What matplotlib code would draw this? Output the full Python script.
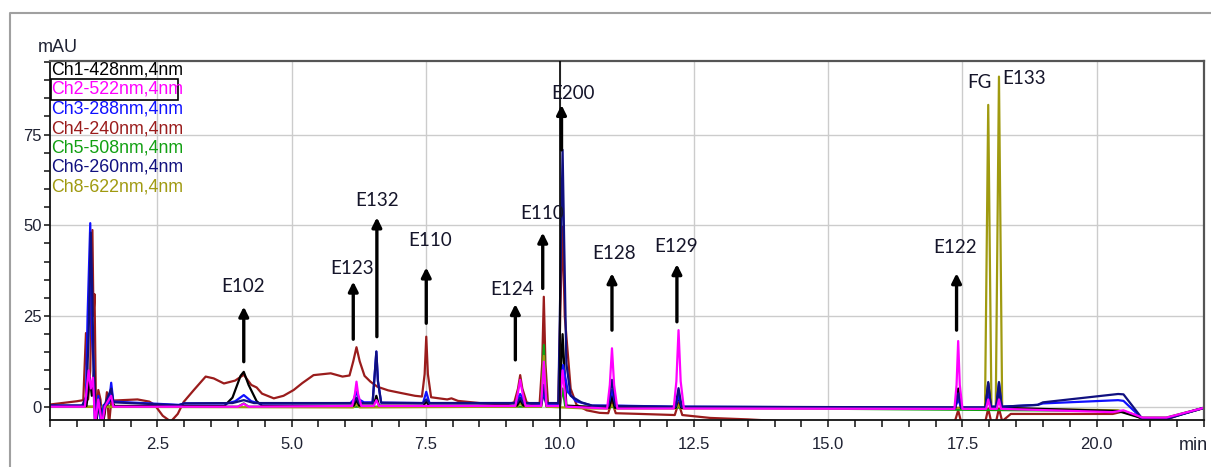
import matplotlib
matplotlib.use("Agg")
import matplotlib.pyplot as plt
from matplotlib.lines import Line2D
from matplotlib.patches import Rectangle
from matplotlib.ticker import MultipleLocator, FormatStrFormatter

# ---- data (time in min, signal in mAU) ----
ch4_t = [0.5, 1.0, 1.12, 1.17, 1.21, 1.25, 1.29, 1.31, 1.33, 1.36, 1.40, 1.44, 1.48, 1.52, 1.56, 1.60,
         1.64, 1.7, 2.13, 2.35, 2.45, 2.6, 2.75, 2.88, 2.99, 3.18, 3.4, 3.55, 3.74, 3.95, 4.11, 4.25,
         4.35, 4.45, 4.67, 4.85, 5.04, 5.2, 5.41, 5.73, 5.95, 6.08, 6.15, 6.21, 6.27, 6.36, 6.47, 6.6,
         6.8, 7.03, 7.3, 7.43, 7.48, 7.51, 7.54, 7.6, 7.9, 7.98, 8.1, 8.5, 9.0, 9.15, 9.22, 9.26,
         9.3, 9.38, 9.5, 9.62, 9.67, 9.70, 9.73, 9.78, 9.9, 9.97, 10.01, 10.05, 10.09, 10.2, 10.31,
         10.5, 10.74, 10.9, 10.97, 11.04, 11.5, 12.14, 12.21, 12.28, 12.8, 13.5, 14.0, 15.0, 17.35,
         17.42, 17.48, 17.92, 17.98, 18.04, 18.12, 18.18, 18.24, 18.4, 19.0, 20.3, 20.5, 20.7, 20.85,
         21.3, 21.6, 22.0]
ch4_v = [0.6, 1.5, 1.8, 20.3, 2.0, 10.0, 48.7, 25.0, 31.0, -5.0, 4.6, 2.0, -5.0, -2.0, 4.0, -5.0,
         1.5, 1.7, 2.0, 1.4, 0.5, -2.5, -4.1, -2.0, 1.3, 4.6, 8.3, 7.8, 6.4, 7.2, 8.8, 6.0,
         5.3, 3.6, 2.3, 3.0, 4.6, 6.5, 8.7, 9.2, 8.3, 8.6, 12.5, 16.4, 12.5, 8.5, 6.9, 5.5,
         4.5, 3.8, 3.0, 2.8, 9.0, 19.3, 9.0, 2.6, 2.0, 2.3, 1.6, 1.0, 0.6, 1.2, 5.0, 8.7,
         5.0, 1.2, 0.6, 0.4, 12.0, 30.3, 12.0, 0.3, 0.2, 0.5, 28.0, 49.6, 25.0, 5.0, 0.5,
         -1.0, -1.7, -1.8, 1.5, -1.8, -2.0, -2.3, 1.0, -2.3, -3.1, -3.5, -3.9, -4.5, -4.5,
         -1.0, -4.5, -4.5, -0.5, -4.5, -4.5, -0.5, -4.0, -2.0, -2.0, -2.0, -1.3, -2.2, -3.4,
         -3.5, -2.0, -0.4]

ch3_t = [0.5, 1.1, 1.17, 1.2, 1.25, 1.28, 1.31, 1.34, 1.4, 1.45, 1.5, 1.6, 1.64, 1.68, 2.9, 3.0,
         3.8, 3.95, 4.11, 4.25, 4.4, 6.1, 6.16, 6.21, 6.26, 6.35, 6.51, 6.55, 6.58, 6.61, 6.67, 7.45,
         7.51, 7.57, 9.16, 9.26, 9.36, 9.65, 9.70, 9.75, 9.98, 10.06, 10.15, 10.3, 10.6, 10.9, 10.97,
         11.04, 12.15, 12.21, 12.27, 17.36, 17.42, 17.48, 17.93, 17.98, 18.03, 18.13, 18.18, 18.23,
         18.9, 19.0, 20.4, 20.5, 20.85, 21.3, 22.0]
ch3_v = [0.3, 0.3, 2.0, 25.0, 50.6, 20.0, 12.4, -5.0, 3.0, -5.0, 0.5, 1.0, 6.6, 1.4, 0.5, 0.9,
         0.9, 1.5, 3.2, 1.5, 0.9, 1.0, 2.0, 4.1, 2.0, 1.2, 1.2, 9.0, 15.2, 7.0, 1.1, 1.0,
         4.1, 1.0, 1.0, 3.5, 1.0, 0.8, 4.0, 0.8, 0.8, 11.5, 4.0, 1.5, 0.3, 0.3, 4.6,
         0.3, 0.0, 3.0, 0.0, -0.3, 2.0, -0.3, -0.3, 4.0, 0.0, 0.0, 6.5, 0.0,
         0.5, 0.9, 1.8, 1.6, -3.3, -3.3, -0.3]

ch6_t = [0.5, 1.1, 1.18, 1.22, 1.26, 1.29, 1.31, 1.34, 1.42, 1.47, 1.52, 1.64, 1.68, 2.9, 3.0,
         3.9, 4.11, 4.3, 6.15, 6.21, 6.26, 6.51, 6.55, 6.58, 6.61, 6.67, 7.45, 7.51, 7.57, 9.2,
         9.26, 9.32, 9.65, 9.70, 9.75, 9.97, 10.01, 10.05, 10.08, 10.12, 10.2, 10.4, 10.6, 10.9,
         10.97, 11.04, 12.15, 12.21, 12.27, 17.36, 17.42, 17.48, 17.93, 17.98, 18.03, 18.13, 18.18,
         18.23, 18.9, 19.0, 20.4, 20.5, 20.85, 21.3, 22.0]
ch6_v = [0.3, 0.3, 3.0, 20.0, 48.0, 30.0, 12.0, -5.0, 2.0, -5.0, 0.5, 5.0, 1.2, 0.4, 0.9,
         1.0, 1.8, 1.0, 1.0, 2.5, 1.0, 1.0, 9.0, 15.2, 7.0, 1.1, 1.0, 2.0, 1.0, 1.0,
         2.5, 1.0, 1.0, 6.0, 1.0, 1.0, 35.0, 70.8, 45.0, 12.0, 3.0, 1.2, 0.3, 0.2,
         7.4, 0.2, 0.0, 5.1, 0.0, -0.2, 3.7, -0.2, -0.2, 6.8, 0.0, 0.0, 6.8,
         0.0, 0.5, 1.2, 3.5, 3.4, -3.3, -3.4, -0.3]

ch2_t = [0.5, 1.15, 1.22, 1.26, 1.3, 1.34, 1.4, 1.47, 1.52, 1.64, 1.68, 4.0, 4.11, 4.2, 6.13,
         6.18, 6.21, 6.24, 6.3, 6.53, 6.58, 6.63, 9.17, 9.22, 9.26, 9.3, 9.36, 9.65, 9.70, 9.75,
         10.0, 10.05, 10.12, 10.88, 10.93, 10.97, 11.01, 11.07, 12.12, 12.17, 12.21, 12.25, 12.31,
         17.35, 17.39, 17.42, 17.45, 17.5, 17.94, 17.98, 18.02, 18.14, 18.18, 18.22, 20.3, 20.5,
         20.85, 21.3, 22.0]
ch2_v = [0.0, 0.0, 10.0, 5.0, 8.0, -5.0, 2.0, -5.0, 0.0, 3.0, 0.0, 0.0, 0.8, 0.0, 0.2,
         3.5, 6.9, 3.5, 0.2, 0.2, 1.8, 0.2, 0.2, 4.0, 7.4, 4.0, 0.2, 0.2, 12.4, 0.2,
         0.2, 10.0, 0.0, -0.5, 6.0, 16.1, 6.0, -0.5, -0.5, 7.0, 21.1, 7.0, -0.5,
         -0.6, 6.0, 18.1, 6.0, -0.6, -0.6, 2.0, -0.6, -0.6, 2.0, -0.6, -1.5, -1.0,
         -3.0, -3.0, -0.3]

ch1_t = [0.5, 1.18, 1.24, 1.28, 1.32, 1.35, 1.42, 1.48, 1.53, 1.64, 1.7, 3.75, 3.9, 4.05, 4.11,
         4.2, 4.35, 4.45, 6.16, 6.21, 6.26, 6.53, 6.58, 6.63, 7.46, 7.51, 7.56, 9.2, 9.26, 9.32,
         9.65, 9.70, 9.75, 9.99, 10.05, 10.12, 10.92, 10.97, 11.02, 12.16, 12.21, 12.26, 17.37,
         17.42, 17.47, 17.93, 17.98, 18.03, 18.13, 18.18, 18.23, 20.4, 20.85, 21.3, 22.0]
ch1_v = [0.2, 0.2, 8.0, 3.0, 10.0, -5.0, 1.0, -5.0, 0.2, 2.0, 0.2, 0.2, 2.5, 8.5, 9.6,
         6.0, 1.5, 0.3, 0.3, 1.8, 0.3, 0.3, 3.0, 0.3, 0.3, 1.5, 0.3, 0.3, 1.8, 0.3,
         0.3, 4.0, 0.3, 0.3, 20.0, 0.3, -0.3, 3.0, -0.3, -0.3, 3.0, -0.3, -0.3,
         5.0, -0.3, -0.3, 6.5, -0.3, -0.3, 5.0, -0.3, -1.2, -3.2, -3.2, -0.3]

ch5_t = [0.5, 4.0, 4.11, 4.2, 9.65, 9.70, 9.75, 10.0, 10.05, 10.1, 20.5, 20.85, 21.3, 22.0]
ch5_v = [0.0, 0.0, 0.9, 0.0, 0.0, 17.0, 0.0, 0.0, 5.0, 0.0, -1.2, -3.0, -3.0, -0.3]

ch8_t = [0.5, 6.15, 6.21, 6.27, 9.2, 9.26, 9.32, 9.65, 9.70, 9.75, 10.5, 10.92, 10.97, 11.02,
         12.16, 12.21, 12.26, 17.42, 17.92, 17.98, 18.04, 18.12, 18.18, 18.24, 20.4, 20.85,
         21.3, 22.0]
ch8_v = [0.0, -0.2, 0.8, -0.2, 0.0, 1.0, 0.0, 0.0, 14.0, 0.0, -0.5, -0.5, 0.5, -0.5,
         -0.5, 0.5, -0.5, -0.3, -0.5, 83.2, -0.5, -0.5, 91.0, -0.5, -1.0, -3.1,
         -3.1, -0.3]

legend_labels = ["Ch1-428nm,4nm", "Ch2-522nm,4nm", "Ch3-288nm,4nm", "Ch4-240nm,4nm",
                 "Ch5-508nm,4nm", "Ch6-260nm,4nm", "Ch8-622nm,4nm"]
legend_colors = ["#000000", "#ff00ff", "#1010ff", "#9a1c1c", "#12a012", "#101080", "#a09a10"]

# peak labels: text, text position, arrow x, arrow bottom, arrow tip
peak_names = ["E102", "E123", "E132", "E110", "E124", "E110", "E200", "E128", "E129", "E122", "FG", "E133"]
label_t = [4.09, 6.12, 6.59, 7.58, 9.11, 9.66, 10.24, 11.0, 12.17, 17.37, 17.81, 18.64]
label_v = [33.1, 38.2, 56.8, 45.8, 32.4, 53.3, 86.4, 42.1, 44.1, 43.9, 89.3, 90.5]
arrow_t = [4.11, 6.15, 6.59, 7.51, 9.17, 9.68, 10.03, 10.97, 12.18, 17.39]
arrow_lo = [12.4, 18.6, 19.3, 23.0, 12.9, 32.6, 70.8, 21.1, 23.4, 21.1]
arrow_hi = [27.6, 34.5, 52.2, 38.4, 28.3, 48.0, 83.2, 36.8, 39.3, 36.8]

W, H = 1211, 467
fig = plt.figure(figsize=(W / 100, H / 100), dpi=100)
ax = fig.add_axes([50 / W, 1 - 420 / H, (1204 - 50) / W, (420 - 61) / H])

series = [(ch4_t, ch4_v, legend_colors[3]), (ch5_t, ch5_v, legend_colors[4]),
          (ch8_t, ch8_v, legend_colors[6]), (ch1_t, ch1_v, legend_colors[0]),
          (ch3_t, ch3_v, legend_colors[2]), (ch6_t, ch6_v, legend_colors[5]),
          (ch2_t, ch2_v, legend_colors[1])]
for t, v, c in series:
    ax.plot(t, v, color=c, lw=1.6, solid_joinstyle="round")

ax.axvline(10.0, color="k", lw=1.2, zorder=5)

ax.set_xlim(0.5, 22.0)
ax.set_ylim(-3.67, 95.3)
ax.xaxis.set_major_locator(MultipleLocator(2.5))
ax.xaxis.set_minor_locator(MultipleLocator(0.5))
ax.xaxis.set_major_formatter(FormatStrFormatter("%.1f"))
ax.yaxis.set_major_locator(MultipleLocator(25))
ax.yaxis.set_minor_locator(MultipleLocator(5))
ax.grid(True, which="major", color="#cccccc", lw=1.0)
ax.set_axisbelow(True)

ax.tick_params(axis="x", which="both", direction="out", length=5, width=1.2, color="#222222")
ax.tick_params(axis="x", which="major", pad=7, labelsize=12, labelcolor="#1f2233")
ax.tick_params(axis="y", which="both", direction="out", length=4, width=1.2, color="#222222")
ax.tick_params(axis="y", which="major", pad=2, labelsize=12, labelcolor="#1f2233")
for lab in ax.get_xticklabels() + ax.get_yticklabels():
    lab.set_family("Liberation Sans")

for side in ["left", "bottom"]:
    ax.spines[side].set_color("#111111")
    ax.spines[side].set_linewidth(1.3)
for side in ["top", "right"]:
    ax.spines[side].set_color("#555555")
    ax.spines[side].set_linewidth(1.6)

for name, tx, ty in zip(peak_names, label_t, label_v):
    ax.text(tx, ty, name, ha="center", va="center", fontsize=13.5, family="Lato",
            color="#15152a", zorder=6)
for at, lo, hi in zip(arrow_t, arrow_lo, arrow_hi):
    ax.annotate("", xy=(at, hi), xytext=(at, lo),
                arrowprops=dict(arrowstyle="-|>", lw=2.4, color="k", mutation_scale=14,
                                shrinkA=0, shrinkB=0), zorder=6)

# legend text block
for i, (lab, c) in enumerate(zip(legend_labels, legend_colors)):
    fig.text(51 / W, 1 - (70 + 19.5 * i) / H, lab, color=c, fontsize=12.8,
             family="Liberation Sans", ha="left", va="center")
fig.add_artist(Rectangle((51 / W, 1 - 100 / H), 127 / W, 21 / H, transform=fig.transFigure,
                         fill=False, edgecolor="k", lw=1.2))

fig.text(38 / W, 1 - 48 / H, "mAU", fontsize=13, family="Liberation Sans",
         color="#1f2233", ha="left", va="center")
fig.text(1208 / W, 1 - 445 / H, "min", fontsize=13, family="Liberation Sans",
         color="#1f2233", ha="right", va="center")

# window frame
fig.add_artist(Line2D([10 / W, 10 / W, 1.0], [0.0, 1 - 12.5 / H, 1 - 12.5 / H],
                      transform=fig.transFigure, color="#a0a0a0", lw=1.5))

fig.savefig("out.png", dpi=100)
